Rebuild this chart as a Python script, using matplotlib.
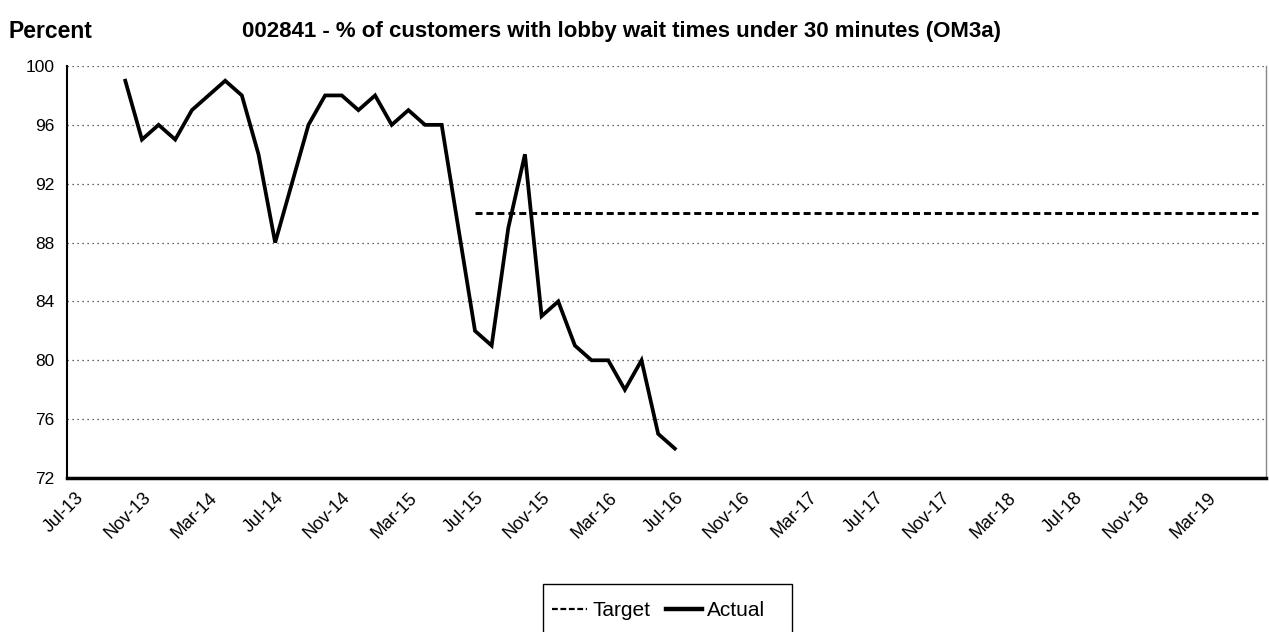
import matplotlib
matplotlib.use("Agg")
import matplotlib.pyplot as plt
from matplotlib.lines import Line2D
from matplotlib.patches import Rectangle

plt.rcParams['font.family'] = ['Liberation Sans', 'DejaVu Sans']

# Monthly categories Jul-13 .. Jun-19
month_names = ["Jan", "Feb", "Mar", "Apr", "May", "Jun", "Jul", "Aug", "Sep", "Oct", "Nov", "Dec"]
months = []
for i in range(72):
    m = (6 + i) % 12
    y = 13 + (6 + i) // 12
    months.append(f"{month_names[m]}-{y:02d}")

# Actual: Oct-13 .. Jul-16
actual_start = "Oct-13"
actual = [99, 95, 96, 95, 97, 98, 99, 98, 94, 88, 92, 96, 98, 98, 97, 98, 96, 97,
          96, 96, 89, 82, 81, 89, 94, 83, 84, 81, 80, 80, 78, 80, 75, 74]

# Target: Jul-15 .. Jun-19 at 90
target_start = "Jul-15"
target = [90] * 48

yticks = [72, 76, 80, 84, 88, 92, 96, 100]
tick_labels = ["Jul-13", "Nov-13", "Mar-14", "Jul-14", "Nov-14", "Mar-15", "Jul-15",
               "Nov-15", "Mar-16", "Jul-16", "Nov-16", "Mar-17", "Jul-17", "Nov-17",
               "Mar-18", "Jul-18", "Nov-18", "Mar-19"]

W, H = 1269, 632
fig = plt.figure(figsize=(W / 100, H / 100), dpi=100)
ax = fig.add_axes([67 / W, 1 - 478 / H, (1266 - 67) / W, (478 - 66) / H])

a0 = months.index(actual_start)
t0 = months.index(target_start)
ax.plot(range(t0, t0 + len(target)), target, color='black', lw=2.1,
        linestyle=(0, (2.4, 1.35)), label='Target', zorder=3)
ax.plot(range(a0, a0 + len(actual)), actual, color='black', lw=2.7,
        solid_joinstyle='miter', label='Actual', zorder=4)

ax.set_xlim(-0.5, len(months) - 0.5)
ax.set_ylim(72, 100)
ax.set_yticks(yticks)
ax.set_yticklabels([str(v) for v in yticks], fontsize=12.5)
tick_pos = [months.index(l) for l in tick_labels]
ax.set_xticks(tick_pos)
ax.set_xticklabels(tick_labels, fontsize=13, rotation=45, ha='right',
                   va='top', rotation_mode='anchor')
ax.tick_params(axis='both', length=0)
ax.tick_params(axis='y', pad=9)
ax.tick_params(axis='x', pad=8)

for v in yticks[1:]:
    ax.axhline(v, color='#333333', lw=0.9, linestyle=(0, (1, 3)), zorder=1)

ax.spines['top'].set_visible(False)
ax.spines['right'].set_color('#888888')
ax.spines['right'].set_linewidth(1.0)
ax.spines['left'].set_linewidth(1.5)
ax.spines['bottom'].set_linewidth(2.5)

fig.text(9 / W, 1 - 32 / H, "Percent", fontsize=16.5, fontweight='bold', va='center', ha='left')
fig.text(622 / W, 1 - 32 / H,
         "002841 - % of customers with lobby wait times under 30 minutes (OM3a)",
         fontsize=16, fontweight='bold', va='center', ha='center')

# Legend (Excel-style box)
fig.patches.append(Rectangle((543 / W, 1 - 640 / H), (792 - 543) / W, (640 - 584) / H,
                             transform=fig.transFigure, fill=False,
                             edgecolor='black', lw=1.0))
handles = [Line2D([], [], color='black', lw=1.6, linestyle=(0, (2.6, 1.2))),
           Line2D([], [], color='black', lw=3.2)]
leg = fig.legend(handles, ['Target', 'Actual'], loc='center left',
                 bbox_to_anchor=(552 / W, 1 - 611 / H), ncol=2,
                 fontsize=15, frameon=False, handlelength=1.7,
                 handletextpad=0.25, columnspacing=0.75, borderpad=0,
                 borderaxespad=0)

fig.savefig("out.png", dpi=100)
